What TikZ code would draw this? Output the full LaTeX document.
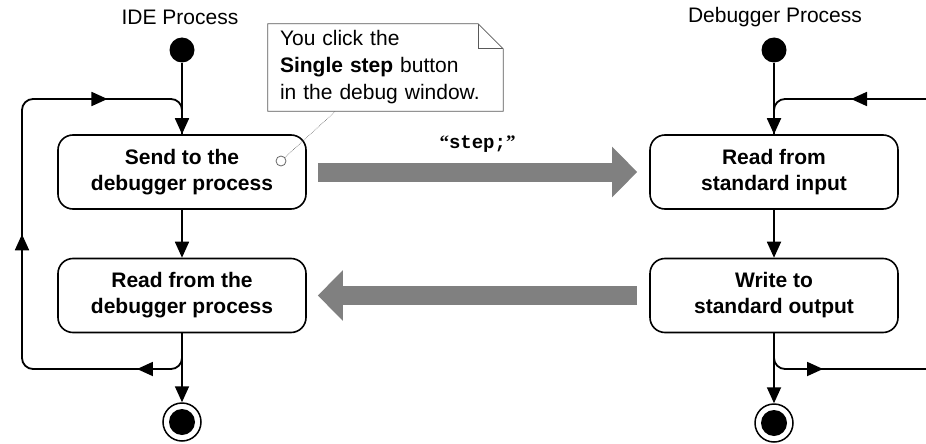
\documentclass[tikz,border=0pt]{standalone}
\usepackage{fontspec}
\setmainfont{Liberation Sans}
\setmonofont{Liberation Mono}
\newfontfamily\quotefont{Liberation Serif}
\usetikzlibrary{arrows.meta, decorations.markings, positioning}

\begin{document}
\begin{tikzpicture}[x=1pt, y=-1pt,
  action/.style={draw, line width=1.6pt, rounded corners=15pt, minimum width=248pt, minimum height=74pt, inner sep=0pt, align=center, font=\fontsize{21}{26}\selectfont\bfseries},
  startdot/.style={circle, fill=black, minimum size=25pt, inner sep=0pt},
  enddot/.style={circle, draw, line width=1.5pt, minimum size=38pt, inner sep=0pt},
  flow/.style={line width=1.8pt, -{Triangle[length=16pt, width=14pt]}},
  loopline/.style={line width=1.8pt, rounded corners=11pt, postaction={decorate}},
  blockarrow/.style={draw=gray, line width=19pt, -{Triangle[length=25pt, width=49pt]}},
  title/.style={font=\fontsize{21}{25}\selectfont},
  notebox/.style={minimum width=235pt, minimum height=87pt, text width=211pt, inner xsep=12pt, inner ysep=0pt, align=left, font=\fontsize{21}{27}\selectfont},
  noteline/.style={draw=black!65, line width=0.8pt},
]
\useasboundingbox (0,0) rectangle (926,444);

\node[title] (ideTitle) at (180,17) {IDE Process};
\node[title] (dbgTitle) at (775,17) {Debugger Process};
\node[startdot] (ideStart) at (182,50) {};
\node[startdot] (dbgStart) at (774,50) {};

\node[action] (sendDbg) at (182,172) {Send to the\\debugger process};
\node[action] (readDbg) at (182,295.5) {Read from the\\debugger process};
\node[action] (readIn) at (774,172) {Read from\\standard input};
\node[action] (writeOut) at (774,295.5) {Write to\\standard output};

\node[enddot] (ideEnd) at (182,422) {};
\fill (ideEnd) circle (13pt);
\node[enddot] (dbgEnd) at (774,423) {};
\fill (dbgEnd) circle (13pt);

\draw[flow] (ideStart) -- (sendDbg);
\draw[flow] (sendDbg) -- (readDbg);
\draw[flow] (readDbg) -- (ideEnd);
\draw[flow] (dbgStart) -- (readIn);
\draw[flow] (readIn) -- (writeOut);
\draw[flow] (writeOut) -- (dbgEnd);

\coordinate (ideLoopBL) at (22,369);
\coordinate (ideLoopTL) at (22,99);
\draw[loopline, decoration={markings,
    mark=at position 76pt with {\arrow{Triangle[length=16pt, width=14pt]}},
    mark=at position 321pt with {\arrow{Triangle[length=16pt, width=14pt]}},
    mark=at position 537pt with {\arrow{Triangle[length=16pt, width=14pt]}}}]
  (readDbg.south) |- (ideLoopBL) -- (ideLoopTL) -| (sendDbg.north);

\coordinate (dbgLoopOut) at (926,369);
\coordinate (dbgLoopIn) at (926,99);
\draw[loopline, decoration={markings,
    mark=at position 80pt with {\arrow{Triangle[length=16pt, width=14pt]}}}]
  (writeOut.south) |- (dbgLoopOut);
\draw[loopline, decoration={markings,
    mark=at position 75pt with {\arrow{Triangle[length=16pt, width=14pt]}}}]
  (dbgLoopIn) -| (readIn.north);

\draw[blockarrow] ([xshift=11pt]sendDbg.east) -- ([xshift=-12pt]readIn.west)
  node[midway, yshift=28pt, text=black, font=\fontsize{19}{22}\selectfont]
  {{\quotefont\bfseries\textquotedblleft}\texttt{\bfseries step;}{\quotefont\bfseries\textquotedblright}};
\draw[blockarrow] ([xshift=-12pt]writeOut.west) -- ([xshift=11pt]readDbg.east);

\node[notebox] (note) at (385.5,67.5) {You click the\\\textbf{Single step} button\\in the debug window.};
\draw[noteline] (note.south west) -- (note.north west) -- ([xshift=-25pt]note.north east)
  -- ([yshift=-25pt]note.north east) -- (note.south east) -- cycle;
\draw[noteline] ([xshift=-25pt]note.north east) -- ([xshift=-25pt, yshift=-25pt]note.north east)
  -- ([yshift=-25pt]note.north east);

\node[circle, draw=black!60, fill=white, line width=0.8pt, minimum size=10pt, inner sep=0pt] (clickPt) at (281,161) {};
\coordinate (noteFoot) at ([xshift=-50pt]note.south);
\draw[black!60, line width=0.6pt, densely dotted] (clickPt) -- (noteFoot);

\end{tikzpicture}
\end{document}
